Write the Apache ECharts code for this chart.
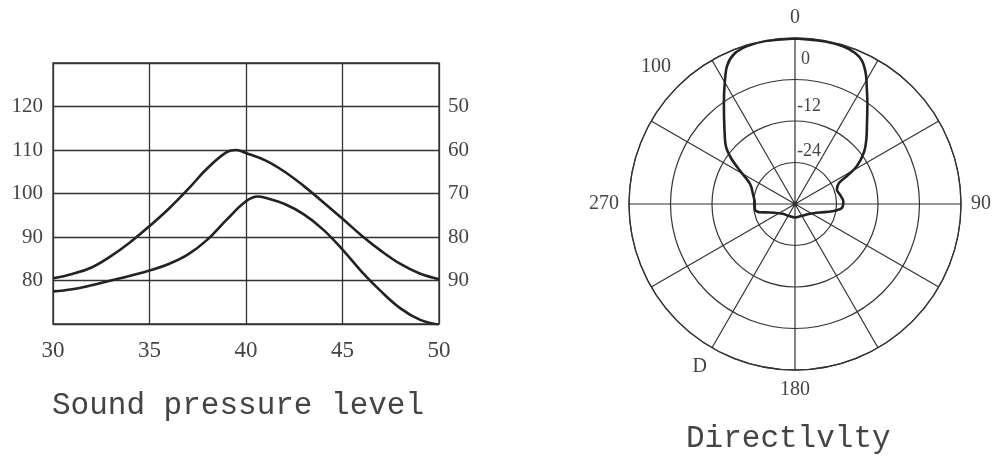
<!DOCTYPE html>
<html>
<head>
<meta charset="utf-8">
<script src="https://cdn.jsdelivr.net/npm/echarts@6/dist/echarts.min.js"></script>
<style>
html,body{margin:0;padding:0;background:#fff;}
#c{width:995px;height:457px;}
</style>
</head>
<body>
<div id="c"></div>
<script>
// ---- Sound pressure level chart data ----
const upperX = [30,31,32,33,34,35,36,37,38,39,39.5,40,41,42,43,44,45,46,47,48,49,50];
const upperY = [80.5,81.5,83,85.6,88.8,92.5,96.5,101,105.8,109.5,110,109.3,107.6,105,101.7,98,94.2,90.3,86.8,83.8,81.6,80.3];
const lowerX = [30,31,32,33,34,35,36,37,38,39,40,40.6,41,42,43,44,45,46,47,48,49,50];
const lowerY = [77.5,78,78.9,80,81.1,82.3,83.8,86,89.4,94,98.2,99.3,99,97.6,95.2,91.7,87.1,82,77.5,73.6,71,69.8];
const xTicks = [30,35,40,45,50];
const leftTicks = [80,90,100,110,120];
const rightTicks = [50,60,70,80,90];

// ---- Directivity (polar) data: angle in degrees, level in dB ----
const polarAngle = [0,10.5,16.9,21.7,25.1,28.6,32,35.9,42,47.7,53,58.5,61.7,64.5,71.1,78.7,86.8,94.9,101.2,108.8,122.9,153.4,180,206.6,231,251.2,256.7,261.9,273.8,282.5,294,301,305.7,310,316.8,324.6,329.6,333.8,337.9,343.1,349.6,360];
const polarDb = [-0.1,-0.2,-0.3,-1.0,-2.3,-5.2,-8.8,-12.3,-16.9,-20.1,-23.0,-27.0,-30.9,-33.9,-35.2,-34.7,-34.0,-34.4,-37.1,-40.4,-42.8,-44.1,-44.1,-44.1,-43.5,-40.4,-37.6,-36.3,-36.3,-35.6,-33.8,-29.5,-25.2,-21.9,-18.2,-12.5,-7.8,-3.5,-1.2,-0.3,-0.1,-0.1];
const angleLabelValues = [0,90,180,210,270];
const angleLabelTexts = ['0','90','180','D','270'];
const radiusLabelValues = [0,-12,-24];
const radiusLabelTexts = ['0','-12','-24'];
const radiusLabelStyles = ['r0','r1','r2'];

const lineColor = '#333';
const textColor = '#444';
const serif = '"Liberation Serif","DejaVu Serif",serif';
const mono = '"Liberation Mono","DejaVu Sans Mono",monospace';

const chart = echarts.init(document.getElementById('c'), null, {renderer:'canvas'});
chart.setOption({
  backgroundColor:'#fff',
  animation:false,
  grid:{left:53,right:556,top:63,bottom:133,show:true,borderColor:lineColor,borderWidth:1.3},
  xAxis:{type:'value',min:30,max:50,interval:5,
    axisLine:{show:false},axisTick:{show:false},
    axisLabel:{color:textColor,fontFamily:serif,fontSize:23,margin:15,
      formatter:v=>xTicks.includes(v)?String(v):''},
    splitLine:{show:true,lineStyle:{color:lineColor,width:1.3}}},
  yAxis:[
    {type:'value',min:70,max:130,interval:10,position:'left',
      axisLine:{show:false},axisTick:{show:false},
      axisLabel:{color:textColor,fontFamily:serif,fontSize:21,margin:10,
        formatter:v=>leftTicks.includes(v)?String(v):''},
      splitLine:{show:true,lineStyle:{color:lineColor,width:1.3}}},
    {type:'value',min:40,max:100,interval:10,position:'right',inverse:true,
      axisLine:{show:false},axisTick:{show:false},
      axisLabel:{color:textColor,fontFamily:serif,fontSize:21,margin:9,
        formatter:v=>rightTicks.includes(v)?String(v):''},
      splitLine:{show:false}}
  ],
  polar:{center:[795,204],radius:166},
  angleAxis:{type:'value',min:0,max:360,interval:30,startAngle:90,clockwise:true,
    axisLine:{show:true,lineStyle:{color:lineColor,width:1.3}},
    axisTick:{show:false},
    axisLabel:{color:textColor,fontFamily:serif,fontSize:20,margin:10,
      formatter:v=>{const i=angleLabelValues.indexOf(v);return (i>=0 && v!==360)?angleLabelTexts[i]:'';}},
    splitLine:{show:true,lineStyle:{color:lineColor,width:1.2}}},
  radiusAxis:{type:'value',min:-48,max:0,interval:12,
    axisLine:{show:false},axisTick:{show:false},
    axisLabel:{color:textColor,fontFamily:serif,fontSize:18,margin:-2,align:'left',verticalAlign:'top',
      formatter:v=>{const i=radiusLabelValues.indexOf(v);return i>=0?('{'+radiusLabelStyles[i]+'|'+radiusLabelTexts[i]+'}'):'';},
      rich:{
        r0:{padding:[12,0,0,4],fontSize:18,fontFamily:serif,color:textColor},
        r1:{padding:[18,0,0,0],fontSize:18,fontFamily:serif,color:textColor},
        r2:{padding:[21,0,0,0],fontSize:18,fontFamily:serif,color:textColor}
      }},
    splitLine:{show:true,lineStyle:{color:lineColor,width:1.2}}},
  graphic:[
    {type:'text',left:52,top:390,style:{text:'Sound pressure level',font:'31px '+mono,fill:textColor}},
    {type:'text',left:686,top:423,style:{text:'Directlvlty',font:'31px '+mono,fill:textColor}},
    {type:'text',left:641,top:57,style:{text:'100',font:'20px '+serif,fill:textColor}}
  ],
  series:[
    {type:'line',xAxisIndex:0,yAxisIndex:0,smooth:0.4,symbol:'none',
      lineStyle:{color:'#222',width:2.6},data:upperX.map((x,i)=>[x,upperY[i]])},
    {type:'line',xAxisIndex:0,yAxisIndex:0,smooth:0.4,symbol:'none',
      lineStyle:{color:'#222',width:2.6},data:lowerX.map((x,i)=>[x,lowerY[i]])},
    {type:'line',coordinateSystem:'polar',smooth:0.3,symbol:'none',
      lineStyle:{color:'#222',width:2.6},data:polarAngle.map((a,i)=>[polarDb[i],a])}
  ]
});
</script>
</body>
</html>
